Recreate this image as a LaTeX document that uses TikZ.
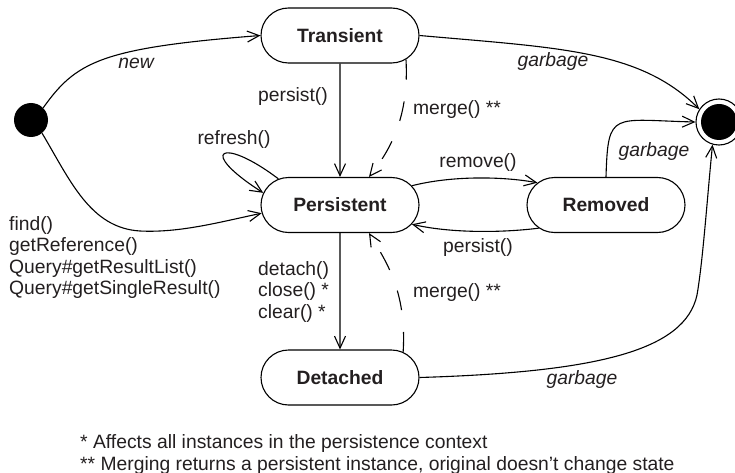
\documentclass[tikz,border=0pt]{standalone}
\usepackage{fontspec}
\setmainfont{Liberation Sans}
\usetikzlibrary{arrows.meta,shapes.misc}
\definecolor{txt}{RGB}{35,31,32}
\begin{document}
\begin{tikzpicture}[x=1pt,y=-1pt,
  state/.style={rounded rectangle, draw, line width=1.1pt, minimum width=158pt, minimum height=55pt, inner sep=0pt, font=\fontsize{19.3}{21.5}\selectfont\bfseries, text=txt},
  lbl/.style={font=\fontsize{19.3}{21.5}\selectfont, text=txt, inner sep=0pt},
  ilbl/.style={font=\fontsize{19.3}{21.5}\selectfont\itshape, text=txt, inner sep=0pt},
  tr/.style={line width=1.1pt, -{Straight Barb[length=12pt,width=11pt,line width=1.1pt]}},
  dtr/.style={tr, dash pattern=on 20pt off 22pt},
]
\useasboundingbox (0,0) rectangle (735,473);
% states
\node[state] (transient) at (340,35.5) {Transient};
\node[state] (persistent) at (340,205) {Persistent};
\node[state] (removed) at (606,205) {Removed};
\node[state] (detached) at (340,377.5) {Detached};
\node[circle, fill=black, minimum size=34pt, inner sep=0pt] (start) at (31,120) {};
\node[circle, draw, line width=1.1pt, minimum size=46pt, inner sep=0pt] (endc) at (719,122) {};
\node[circle, fill=black, minimum size=36pt, inner sep=0pt] (endin) at (endc) {};
% transitions
\draw[tr] (start.45) .. controls (76,62) and (100,48) .. (transient.west);
\draw[tr] (start.-50) .. controls (70,180) and (90,228) .. (140,231) .. controls (180,233) and (220,222) .. (persistent.186);
\draw[tr] (transient) -- (persistent);
\draw[dtr] (transient.340) .. controls (409,115) and (392,148) .. ([xshift=29pt]persistent.north);
\draw[tr] (transient.east) .. controls (560,48) and (640,50) .. (endc.147);
\draw[tr] (persistent.157) .. controls (222,136) and (196,150) .. (persistent.171);
\draw[tr] (persistent.15) .. controls (450,176) and (500,176) .. (removed.162);
\draw[tr] (removed.199) .. controls (500,233) and (450,233) .. (persistent.345);
\draw[tr] (removed.north) .. controls (608,110) and (612,120) .. (endc.west);
\draw[tr] (persistent) -- (detached);
\draw[dtr] (detached.22) .. controls (407,290) and (385,260) .. ([xshift=29pt]persistent.south);
\draw[tr] (detached.east) .. controls (600,372) and (685,350) .. (697,295) .. controls (703,260) and (707,200) .. (endc.254);
% labels
\node[ilbl] (lnew) at (136,63) {new};
\node[lbl] (lpersist1) at (293,97) {persist()};
\node[lbl] (lmerge1) at (457,110) {merge() **};
\node[ilbl] (lgarb1) at (553,62) {garbage};
\node[lbl] (lrefresh) at (234,140) {refresh()};
\node[lbl] (lremove) at (478,163) {remove()};
\node[lbl] (lpersist2) at (478,248) {persist()};
\node[ilbl] (lgarb2) at (654,152) {garbage};
\node[lbl, align=left, anchor=west] (lfind) at (9,257.5) {find()\\getReference()\\Query\#getResultList()\\Query\#getSingleResult()};
\node[lbl, align=left, anchor=west] (ldetach) at (258,292) {detach()\\close() *\\clear() *};
\node[lbl] (lmerge2) at (457,293) {merge() **};
\node[ilbl] (lgarb3) at (582,380) {garbage};
\node[lbl, anchor=base west] (note1) at (80,448) {* Affects all instances in the persistence context};
\node[lbl, anchor=base west] (note2) at (80,470) {** Merging returns a persistent instance, original doesn't change state};
\end{tikzpicture}
\end{document}
